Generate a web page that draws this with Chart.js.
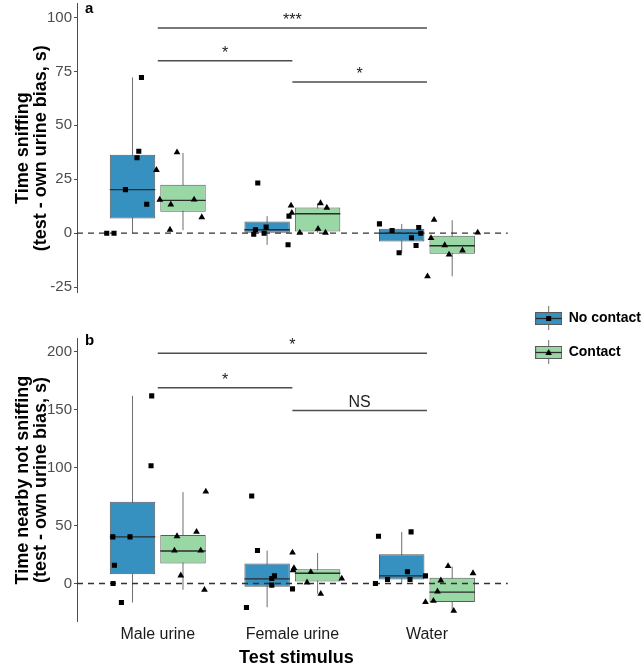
<!DOCTYPE html>
<html>
<head>
<meta charset="utf-8">
<script src="https://cdn.jsdelivr.net/npm/chart.js@4/dist/chart.umd.min.js"></script>
<style>
html,body{margin:0;padding:0;background:#fff;overflow:hidden;}
canvas{display:block;}
</style>
</head>
<body>
<canvas id="c" width="660" height="667"></canvas>
<script>
// ---------------- data ----------------
const categories = ['Male urine', 'Female urine', 'Water'];
const groups = ['No contact', 'Contact'];
const panelTags = ['a', 'b'];

// Panel a: Time sniffing (test - own urine bias, s)
const aTicks = [-25, 0, 25, 50, 75, 100];
const aRange = [-27.45, 106.3];
const aNoLo  = [0, -5.4, -9.1];
const aNoQ1  = [6.8, 0, -3.8];
const aNoMed = [20.2, 1.6, 0];
const aNoQ3  = [36.4, 5.4, 2.0];
const aNoHi  = [72.2, 7.9, 4.3];
const aCoLo  = [1.4, 0.2, -20.0];
const aCoQ1  = [9.9, 0.8, -9.5];
const aCoMed = [15.2, 9.0, -5.8];
const aCoQ3  = [22.4, 11.9, -1.2];
const aCoHi  = [37.2, 13.9, 6.0];
const aNoX = [0.879,0.859,0.846,0.760,0.918,0.621,0.675, 1.743,1.726,1.713,1.805,1.790,1.968,1.975, 2.647,2.741,2.939,2.954,2.885,2.919,2.793];
const aNoY = [72.2,38.0,35.0,20.2,13.4,0,0, 23.3,1.6,-0.5,2.8,0,-5.4,7.9, 4.3,1.25,2.6,0,-2.1,-5.7,-9.1];
const aCoX = [1.143,0.990,1.015,1.097,1.270,1.327,1.091, 1.990,1.996,2.055,2.209,2.256,2.191,2.246, 3.053,3.030,3.132,3.164,3.264,3.377,3.004];
const aCoY = [37.5,29.3,15.5,13.3,15.6,7.4,1.6, 12.8,9.4,0.2,13.9,11.8,2.0,0.2, 6.2,-2.3,-5.6,-9.9,-8.0,0.3,-20.0];
const aBrFrom = [1, 1, 2];
const aBrTo   = [3, 2, 3];
const aBrY    = [95.1, 80.0, 70.1];
const aBrLabel = ['***', '*', '*'];

// Panel b: Time nearby not sniffing (test - own urine bias, s)
const bTicks = [0, 50, 100, 150, 200];
const bRange = [-33, 211.4];
const bNoLo  = [-16.4, -20.5, 0];
const bNoQ1  = [8.1, -2.8, 3.4];
const bNoMed = [40.2, 4.0, 6.6];
const bNoQ3  = [70.6, 17.2, 25.3];
const bNoHi  = [161.8, 28.4, 44.5];
const bCoLo  = [-5.4, -8.9, -23.5];
const bCoQ1  = [17.2, 1.7, -16.0];
const bCoMed = [28.1, 8.9, -7.4];
const bCoQ3  = [41.9, 12.4, 4.9];
const bCoHi  = [78.8, 26.4, 14.6];
const bNoX = [0.955,0.950,0.666,0.794,0.678,0.668,0.730, 1.698,1.741,1.867,1.847,1.847,2.001,1.659, 2.640,2.882,2.855,2.707,2.874,2.989,2.617];
const bNoY = [161.8,101.5,40.2,40.2,15.8,0,-16.4, 75.5,28.4,6.6,4.3,-1.4,-4.6,-20.7, 40.8,44.5,10.1,3.4,3.4,6.6,0];
const bCoX = [1.357,1.288,1.143,1.124,1.319,1.171,1.347, 2.001,2.012,2.005,2.137,2.109,2.211,2.367, 3.157,3.342,3.103,3.078,2.989,3.048,3.199];
const bCoY = [79.2,44.5,40.8,28.4,28.4,6.9,-5.4, 26.7,13.3,11.5,9.8,0.9,-8.9,4.3, 15.0,8.9,2.6,-6.9,-16.0,-14.9,-23.5];
const bBrFrom = [1, 1, 2];
const bBrTo   = [3, 2, 3];
const bBrY    = [198.5, 168.7, 149.2];
const bBrLabel = ['*', '*', 'NS'];

// ---------------- layout / style constants ----------------
const xRange = [0.4, 3.659];
const zeroLineX = [0.4, 3.6];
const dodge = 0.375, boxFrac = 0.9;
const offs = [-dodge / 2, dodge / 2];
const halfBox = dodge * boxFrac / 2;
const FONT = "'Liberation Sans', Arial, Helvetica, sans-serif";
const BLUE = '#3690c0', GREEN = '#99d8a4';
const BOXLINE = '#5a5a5a', WHISKER = '#6e6e6e', MEDIAN = '#2b2b2b';
Chart.defaults.font.family = FONT;

// ---------------- builders ----------------
function whisker(lo, hi, g) {
  const d = [];
  categories.forEach((c, i) => { const x = i + 1 + offs[g]; d.push({x, y: lo[i]}, {x, y: hi[i]}, {x, y: null}); });
  return d;
}
function boxes(q1, q3, g) {
  return categories.map((c, i) => ({x: i + 1 + offs[g], y: [q1[i], q3[i]]}));
}
function medians(m, g) {
  const d = [];
  categories.forEach((c, i) => { const x = i + 1 + offs[g]; d.push({x: x - halfBox, y: m[i]}, {x: x + halfBox, y: m[i]}, {x, y: null}); });
  return d;
}
function points(xs, ys) { return xs.map((x, i) => ({x, y: ys[i]})); }
function brackets(from, to, ys) {
  const d = [];
  from.forEach((f, i) => { d.push({x: f, y: ys[i]}, {x: to[i], y: ys[i]}, {x: to[i], y: null}); });
  return d;
}
function lineDs(data, axis, color, width, order, extra) {
  return Object.assign({type: 'scatter', data, yAxisID: axis, showLine: true, borderColor: color,
    borderWidth: width, pointRadius: 0, pointHoverRadius: 0, spanGaps: false, order}, extra || {});
}
function barDs(data, axis, fill) {
  return {type: 'bar', data, yAxisID: axis, backgroundColor: fill, borderColor: BOXLINE, borderWidth: 1,
    borderSkipped: false, grouped: false, barPercentage: boxFrac, categoryPercentage: 1, inflateAmount: 0, order: 40};
}
function pointDs(data, axis, style, r) {
  return {type: 'scatter', data, yAxisID: axis, pointStyle: style, pointRadius: r, pointHoverRadius: r,
    backgroundColor: '#000', borderColor: '#000', borderWidth: 0, order: 0};
}
function panel(axis, S) {
  return [
    lineDs(whisker(S.noLo, S.noHi, 0), axis, WHISKER, 1, 50),
    lineDs(whisker(S.coLo, S.coHi, 1), axis, WHISKER, 1, 50),
    barDs(boxes(S.noQ1, S.noQ3, 0), axis, BLUE),
    barDs(boxes(S.coQ1, S.coQ3, 1), axis, GREEN),
    lineDs(medians(S.noMed, 0), axis, MEDIAN, 1.4, 30),
    lineDs(medians(S.coMed, 1), axis, MEDIAN, 1.4, 30),
    lineDs([{x: zeroLineX[0], y: 0}, {x: zeroLineX[1], y: 0}], axis, '#333', 1.3, 20, {borderDash: [6, 5]}),
    lineDs(brackets(S.brFrom, S.brTo, S.brY), axis, '#4d4d4d', 1.5, 20),
    pointDs(points(S.noX, S.noY), axis, 'rect', 3.6),
    pointDs(points(S.coX, S.coY), axis, 'triangle', 3.9)
  ];
}

const dsA = panel('yA', {noLo: aNoLo, noQ1: aNoQ1, noMed: aNoMed, noQ3: aNoQ3, noHi: aNoHi,
  coLo: aCoLo, coQ1: aCoQ1, coMed: aCoMed, coQ3: aCoQ3, coHi: aCoHi,
  noX: aNoX, noY: aNoY, coX: aCoX, coY: aCoY, brFrom: aBrFrom, brTo: aBrTo, brY: aBrY});
const dsB = panel('yB', {noLo: bNoLo, noQ1: bNoQ1, noMed: bNoMed, noQ3: bNoQ3, noHi: bNoHi,
  coLo: bCoLo, coQ1: bCoQ1, coMed: bCoMed, coQ3: bCoQ3, coHi: bCoHi,
  noX: bNoX, noY: bNoY, coX: bCoX, coY: bCoY, brFrom: bBrFrom, brTo: bBrTo, brY: bBrY});

// legend key glyphs (boxplot key)
function keyGlyph(fill, marker) {
  const c = document.createElement('canvas');
  c.width = 27; c.height = 24;
  const g = c.getContext('2d');
  g.strokeStyle = WHISKER; g.lineWidth = 1;
  g.beginPath(); g.moveTo(13.5, 0); g.lineTo(13.5, 24); g.stroke();
  g.fillStyle = fill; g.fillRect(0.5, 6.5, 26, 12);
  g.strokeStyle = BOXLINE; g.strokeRect(0.5, 6.5, 26, 12);
  g.strokeStyle = MEDIAN; g.lineWidth = 1.3;
  g.beginPath(); g.moveTo(0.5, 12.5); g.lineTo(26.5, 12.5); g.stroke();
  g.fillStyle = '#000';
  if (marker === 'rect') { g.fillRect(11, 10, 5, 5); }
  else { g.beginPath(); g.moveTo(13.5, 9); g.lineTo(16.8, 15); g.lineTo(10.2, 15); g.closePath(); g.fill(); }
  return c;
}
const keyImgs = [keyGlyph(BLUE, 'rect'), keyGlyph(GREEN, 'triangle')];

const sigPlugin = {
  id: 'sigLabels',
  afterDatasetsDraw(chart) {
    const {ctx} = chart;
    const x = chart.scales.x;
    ctx.save();
    ctx.font = '16px ' + FONT;
    ctx.fillStyle = '#222';
    ctx.textAlign = 'center';
    ctx.textBaseline = 'alphabetic';
    [['yA', aBrFrom, aBrTo, aBrY, aBrLabel], ['yB', bBrFrom, bBrTo, bBrY, bBrLabel]].forEach(([id, f, t, ys, ls]) => {
      const y = chart.scales[id];
      ls.forEach((l, i) => ctx.fillText(l, x.getPixelForValue((f[i] + t[i]) / 2), y.getPixelForValue(ys[i]) - 3));
    });
    ctx.font = 'bold 15px ' + FONT;
    ctx.fillStyle = '#000';
    ctx.textAlign = 'left';
    ctx.textBaseline = 'middle';
    ctx.fillText(panelTags[0], chart.chartArea.left + 8, chart.scales.yA.top + 5);
    ctx.fillText(panelTags[1], chart.chartArea.left + 8, chart.scales.yB.top + 3);
    ctx.restore();
  }
};

const yCommon = (title, range, ticks, weight) => ({
  type: 'linear', position: 'left', stack: 'panels', stackWeight: weight,
  min: range[0], max: range[1],
  afterBuildTicks: s => { s.ticks = ticks.map(v => ({value: v})); },
  afterFit: s => { s.width = 77; s.paddingTop = 0; s.paddingBottom = 0; },
  ticks: {font: {size: 15}, color: '#4d4d4d', padding: 2},
  grid: {display: true, drawOnChartArea: false, drawTicks: true, tickLength: 3, color: '#4d4d4d'},
  border: {display: true, color: '#4d4d4d', width: 1},
  title: {display: true, text: title, font: {size: 18, weight: 'bold', lineHeight: 1}, color: '#000', padding: {top: 14, bottom: 0}}
});

new Chart(document.getElementById('c').getContext('2d'), {
  type: 'scatter',
  data: {datasets: [...dsA, ...dsB]},
  options: {
    responsive: false,
    animation: false,
    events: [],
    layout: {padding: {top: 3, left: 0, right: 9, bottom: 0}},
    scales: {
      x: {
        type: 'linear', position: 'bottom', min: xRange[0], max: xRange[1], offset: false,
        afterBuildTicks: s => { s.ticks = categories.map((c, i) => ({value: i + 1})); },
        ticks: {callback: v => categories[v - 1], font: {size: 16}, color: '#1a1a1a', padding: 3, autoSkip: false, maxRotation: 0},
        grid: {display: false, drawTicks: false, offset: false},
        border: {display: false},
        title: {display: true, text: 'Test stimulus', font: {size: 18, weight: 'bold', lineHeight: 1}, color: '#000', padding: {top: 2, bottom: 0}}
      },
      // left-side stacked boxes are placed in reverse order: last listed goes on top
      yB: yCommon(['Time nearby not sniffing', '(test - own urine bias, s)'], bRange, bTicks, 284),
      yGap: {type: 'linear', position: 'left', stack: 'panels', stackWeight: 46, display: false},
      yA: yCommon(['Time sniffing', '(test - own urine bias, s)'], aRange, aTicks, 289)
    },
    plugins: {
      tooltip: {enabled: false},
      legend: {
        display: true, position: 'right', align: 'center', maxWidth: 220,
        labels: {
          usePointStyle: true, pointStyleWidth: 26, padding: 20, color: '#000',
          font: {size: 14, weight: 'bold'},
          generateLabels: () => groups.map((g, i) => ({
            text: g, pointStyle: keyImgs[i], fillStyle: 'transparent', strokeStyle: 'transparent',
            lineWidth: 0, hidden: false, fontColor: '#000'
          }))
        }
      }
    }
  },
  plugins: [sigPlugin]
});
</script>
</body>
</html>
